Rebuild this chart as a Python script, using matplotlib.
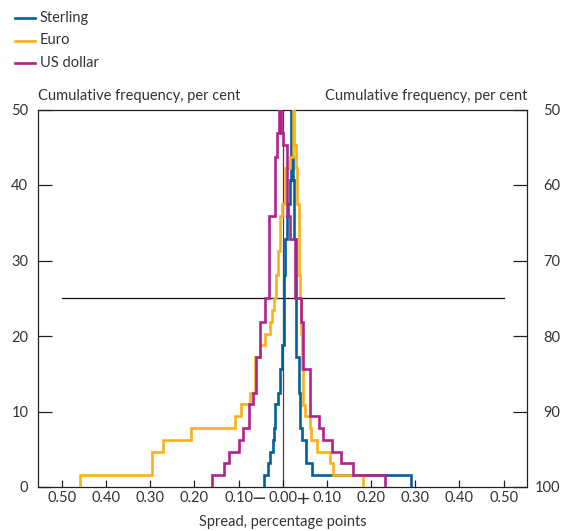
import matplotlib
matplotlib.use("Agg")
import matplotlib.pyplot as plt
from matplotlib.lines import Line2D
from matplotlib.transforms import ScaledTranslation

plt.rcParams['font.family'] = ['Lato', 'DejaVu Sans']

# Folded cumulative distributions of spreads (step edges in percentage points,
# level reached at each edge in per cent)
sterling_x = [-0.043, -0.034, -0.028, -0.022, -0.019, -0.017, -0.011, -0.006, -0.002,
              0.002, 0.004, 0.006, 0.010, 0.013, 0.017, 0.0185, 0.020, 0.023, 0.026,
              0.029, 0.031, 0.036, 0.038, 0.040, 0.043, 0.053, 0.066, 0.290]
sterling_y = [1.56, 3.13, 4.69, 6.25, 7.81, 10.94, 12.5, 15.6, 18.75, 23.4, 28.1,
              32.8, 35.9, 37.5, 40.6, 50, 43.75, 40.6, 32.8, 26.6, 17.2, 12.5, 10.9,
              7.81, 6.25, 3.13, 1.56, 0]

euro_x = [-0.460, -0.297, -0.271, -0.207, -0.107, -0.095, -0.0735, -0.062, -0.051,
          -0.039, -0.028, -0.024, -0.019, -0.015, -0.011, -0.0057, -0.002, 0.0057,
          0.017, 0.023, 0.026, 0.029, 0.032, 0.036, 0.040, 0.042, 0.043, 0.047,
          0.051, 0.061, 0.064, 0.077, 0.107, 0.114, 0.181]
euro_y = [1.56, 4.69, 6.25, 7.81, 9.38, 10.94, 12.5, 17.19, 18.75, 20.3, 21.9, 23.4,
          25.0, 28.1, 31.3, 35.9, 37.5, 42.2, 43.75, 50, 45.3, 42.2, 37.5, 28.1, 25.0,
          20.3, 15.6, 10.9, 9.38, 7.81, 6.25, 4.69, 3.13, 1.56, 0]

usd_x = [-0.160, -0.134, -0.121, -0.098, -0.089, -0.077, -0.068, -0.0615, -0.051,
         -0.040, -0.030, -0.017, -0.012, -0.008, -0.004, 0.0005, 0.0095, 0.017,
         0.0285, 0.041, 0.047, 0.061, 0.083, 0.091, 0.111, 0.131, 0.159, 0.232]
usd_y = [1.56, 3.13, 4.69, 6.25, 7.81, 10.94, 12.5, 17.19, 21.9, 25.0, 35.9, 43.75,
         46.9, 50, 46.9, 45.3, 35.9, 32.8, 25.0, 21.9, 15.6, 9.38, 7.81, 6.25, 4.69,
         3.13, 1.56, 0]

series = [
    ("Sterling", sterling_x, sterling_y, "#00609c"),
    ("Euro", euro_x, euro_y, "#fcb017"),
    ("US dollar", usd_x, usd_y, "#b0228c"),
]

x_ticks = [-0.5, -0.4, -0.3, -0.2, -0.1, 0.0, 0.1, 0.2, 0.3, 0.4, 0.5]
x_tick_labels = ["0.50", "0.40", "0.30", "0.20", "0.10", "0.00",
                 "0.10", "0.20", "0.30", "0.40", "0.50"]
left_ticks = [0, 10, 20, 30, 40, 50]
right_tick_labels = ["100", "90", "80", "70", "60", "50"]

W, H = 563, 531
fig = plt.figure(figsize=(W / 100, H / 100), dpi=100)
ax = fig.add_axes([38 / W, 1 - 487 / H, (527 - 38) / W, (487 - 109.5) / H])

axis_col = "#222222"
txt_col = "#333333"
fs = 10.5
xpad = 3

# reference lines
ax.plot([0, 0], [0, 50], color="#444444", lw=0.9, zorder=1)
ax.plot([-0.5, 0.5], [25, 25], color="#111111", lw=0.9, zorder=1)

for name, xs, ys, col in series:
    px = [xs[0]] + list(xs)
    py = [0] + list(ys)
    ax.step(px, py, where="post", color=col, lw=1.9, zorder=3,
            solid_joinstyle="miter", label=name)

ax.set_xlim(-0.554, 0.553)
ax.set_ylim(0, 50)
ax.set_xticks(x_ticks)
ax.set_xticklabels(x_tick_labels)
ax.set_yticks(left_ticks)
ax.tick_params(axis="x", direction="in", length=5, width=0.9, color=axis_col,
               labelsize=fs, pad=xpad, labelcolor=txt_col)
ax.tick_params(axis="y", direction="in", length=10, width=0.9, color=axis_col,
               labelsize=fs, pad=7, labelcolor=txt_col)
for s in ax.spines.values():
    s.set_color(axis_col)
    s.set_linewidth(0.9)

# sign markers either side of zero on the spread axis
sign_trans = ax.get_xaxis_transform() + ScaledTranslation(0, -(xpad - 1) / 72, fig.dpi_scale_trans)
ax.text(-0.054, 0, "\u2212", transform=sign_trans, ha="center", va="top",
        fontsize=fs + 2.5, color=txt_col, family="DejaVu Sans")
ax.text(0.046, 0, "+", transform=sign_trans, ha="center", va="top",
        fontsize=fs + 2.5, color=txt_col, family="DejaVu Sans")

ax2 = ax.twinx()
ax2.set_ylim(0, 50)
ax2.set_yticks(left_ticks)
ax2.set_yticklabels(right_tick_labels, ha="right")
ax2.tick_params(axis="y", direction="in", length=10, width=0.9, color=axis_col,
                labelsize=fs, pad=24, labelcolor=txt_col)
for s in ax2.spines.values():
    s.set_visible(False)

fig.text(38 / W, 1 - 96 / H, "Cumulative frequency, per cent", ha="left",
         va="center", fontsize=fs, color=txt_col)
fig.text(527 / W, 1 - 96 / H, "Cumulative frequency, per cent", ha="right",
         va="center", fontsize=fs, color=txt_col)
fig.text(283 / W, 1 - 522 / H, "Spread, percentage points", ha="center",
         va="center", fontsize=fs, color=txt_col)

# legend
for i, (name, xs, ys, col) in enumerate(series):
    yy = 1 - (18 + 22.5 * i) / H
    fig.add_artist(Line2D([15 / W, 35 / W], [yy, yy], color=col, lw=1.9,
                          transform=fig.transFigure))
    fig.text(40 / W, yy, name, ha="left", va="center", fontsize=fs, color=txt_col)

fig.savefig("out.png", dpi=100)
